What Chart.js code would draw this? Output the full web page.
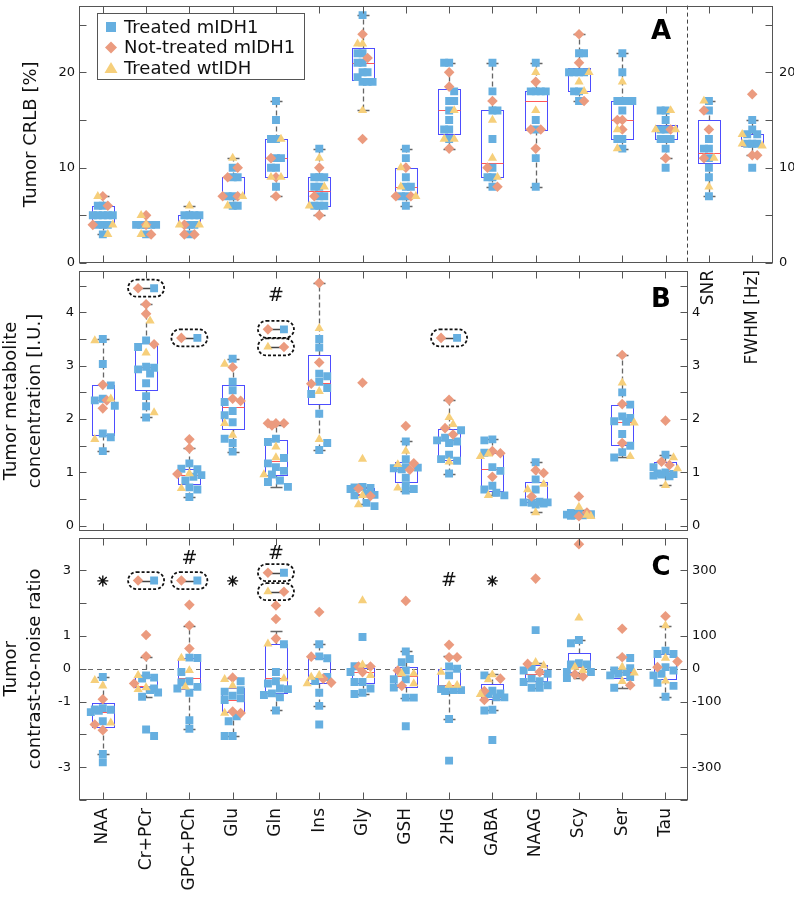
<!DOCTYPE html>
<html>
<head>
<meta charset="utf-8">
<script src="https://cdn.jsdelivr.net/npm/chart.js@4.4.0/dist/chart.umd.min.js"></script>
<style>
  body { margin: 0; background: #fff; }
  #wrap { position: relative; width: 794px; height: 898px; overflow: hidden; }
  canvas { position: absolute; left: 0; }
</style>
</head>
<body>
<div id="wrap">
  <canvas id="crlbChart" width="794" height="400" style="top:0"></canvas>
  <canvas id="concChart" width="794" height="272" style="top:265px"></canvas>
  <canvas id="cnrChart" width="794" height="366" style="top:532px"></canvas>
</div>
<script>
// Categories
const metabolites = ['NAA', 'Cr+PCr', 'GPC+PCh', 'Glu', 'Gln', 'Ins', 'Gly', 'GSH', '2HG', 'GABA', 'NAAG', 'Scy', 'Ser', 'Tau'];
const qualityLabels = ['SNR', 'FWHM [Hz]'];

// Panel A: CRLB [%] (14 metabolites + SNR + FWHM)
const crlbTreated = [
  [6, 6, 5, 5, 5, 5, 5, 4, 4, 4, 3], [4, 4, 4, 4, 4, 3], [5, 5, 5, 5, 4, 4, 3], [10, 9, 9, 7, 7, 6, 6],
  [17, 15, 13, 13, 11, 11, 10, 10, 8], [12, 9, 9, 9, 8, 8, 7, 7, 6, 6, 6], [26, 22, 22, 21, 21, 20, 20, 19.5, 19, 19, 19],
  [12, 11, 9, 8, 8, 7, 7, 6], [21, 21, 18, 17, 17, 16, 15, 14, 14, 13], [21, 18, 16, 16, 13, 10, 9, 9, 8],
  [21, 18, 18, 18, 18, 15, 14, 11, 8], [22, 22, 20, 20, 20, 20, 18, 18, 17], [22, 20, 17, 17, 17, 17, 16, 13, 13, 12],
  [16, 16, 15, 14, 14, 13, 13, 13, 12, 10], [17, 16, 13, 12, 12, 11, 10, 9, 7], [15, 14, 13.5, 13.5, 12.5, 12.5, 12.5, 10]
];
const crlbNotTreated = [
  [7, 6, 4], [5, 4, 3], [4, 3, 3], [10, 9, 7, 7], [11, 9, 7], [10, 7, 5], [24, 21.5, 13], [10, 7, 7],
  [20, 18.5, 12], [17, 10, 8], [19, 14, 14, 12], [24, 21, 17], [15, 15, 14], [14, 11], [16, 14, 11], [17.7, 11.3, 11.3]
];
const crlbWildtype = [
  [7, 4, 3], [5, 4, 3], [6, 4, 4], [11, 7, 6], [13, 9, 9], [11, 8, 6], [23, 23, 16], [10, 8, 7],
  [16, 13, 13], [15, 11, 9], [20, 16], [20, 19, 18], [19, 14, 12], [16, 14, 14], [17, 11, 8], [13.5, 12.5, 12.3]
];
const crlbLow = [3, 4, 3, 6, 7, 5, 16, 6, 12, 8, 8, 17, 12, 11, 7, 11.3];
const crlbQ1 = [4, 4, 4, 7, 9, 6, 19.2, 7, 13.5, 9, 14, 18, 13, 13, 10.5, 12.3];
const crlbMedian = [5, 4, 4, 7, 11, 7.5, 21, 8, 16, 10.5, 17, 20, 15, 14, 11.5, 12.4];
const crlbQ3 = [6, 4, 5, 9, 13, 9, 22.5, 10, 18.2, 16, 18, 20.5, 17, 14.5, 15, 13.5];
const crlbHigh = [7, 4, 6, 11, 17, 12, 26, 12, 21, 21, 21, 24, 22, 16, 17, 15];

// Panel B: concentration [I.U.]
const concTreated = [
  [3.5, 3.03, 2.63, 2.38, 2.35, 2.25, 1.73, 1.66, 1.4], [3.47, 3.35, 2.98, 2.96, 2.93, 2.85, 2.67, 2.43, 2.24, 2.03],
  [1.17, 1.07, 1.06, 0.95, 0.92, 0.85, 0.72, 0.68, 0.54], [3.13, 2.7, 2.54, 2.32, 2.15, 2.07, 1.94, 1.63, 1.55, 1.39],
  [1.63, 1.57, 1.27, 1.17, 1.1, 1.03, 0.96, 0.85, 0.82, 0.73], [3.5, 3.34, 2.85, 2.8, 2.7, 2.58, 2.47, 2.1, 1.55, 1.42],
  [0.73, 0.72, 0.71, 0.69, 0.6, 0.58, 0.57, 0.43, 0.37], [1.58, 1.25, 1.1, 1.09, 1.08, 1.06, 0.9, 0.75, 0.69, 0.66],
  [1.79, 1.65, 1.6, 1.58, 1.55, 1.33, 1.25, 1.22, 0.98], [1.62, 1.6, 1.37, 1.1, 1.03, 0.75, 0.68, 0.62, 0.57],
  [1.19, 0.87, 0.68, 0.45, 0.44, 0.44, 0.43, 0.42, 0.4], [0.24, 0.23, 0.22, 0.21, 0.2, 0.2, 0.19],
  [2.5, 2.27, 2.05, 2.02, 1.96, 1.95, 1.72, 1.5, 1.38, 1.28], [1.33, 1.1, 1.0, 0.98, 0.97, 0.96, 0.94, 0.93]
];
const concNotTreated = [
  [2.64, 2.35, 2.2], [4.15, 3.97, 3.4], [1.62, 1.45, 0.97], [2.97, 2.38, 2.34], [1.92, 1.92, 1.92, 1.88],
  [4.55, 3.06, 2.66], [2.68, 0.7, 0.56], [1.87, 1.17, 1.05], [2.36, 1.83, 1.71], [1.4, 1.36, 0.92],
  [1.04, 0.99, 0.55], [0.55, 0.25, 0.18], [3.2, 2.28, 1.55], [1.97, 1.2, 1.14]
];
const concWildtype = [
  [3.47, 2.38, 1.62], [3.84, 3.24, 2.12], [0.98, 0.7], [3.03, 1.92, 1.7], [1.48, 1.28, 0.96], [3.7, 2.52, 1.62],
  [1.25, 0.57, 0.4], [1.4, 1.15, 0.71], [2.03, 1.9, 1.2], [1.35, 1.3, 0.57], [0.78, 0.68, 0.25], [0.35, 0.2, 0.18],
  [2.68, 1.93, 1.3], [1.28, 1.07, 0.76]
];
const concLow = [1.4, 2.03, 0.54, 1.39, 0.73, 1.42, 0.4, 0.66, 0.98, 0.57, 0.25, 0.17, 1.28, 0.76];
const concQ1 = [1.7, 2.55, 0.78, 1.81, 0.96, 2.28, 0.58, 0.82, 1.23, 0.66, 0.44, 0.19, 1.52, 0.96];
const concMedian = [2.35, 2.97, 0.95, 2.23, 1.22, 2.68, 0.6, 1.07, 1.6, 1.07, 0.5, 0.22, 1.95, 1.03];
const concQ3 = [2.63, 3.42, 1.07, 2.63, 1.6, 3.2, 0.71, 1.2, 1.81, 1.37, 0.82, 0.26, 2.27, 1.2];
const concHigh = [3.5, 4.15, 1.45, 3.13, 1.88, 4.55, 0.73, 1.58, 2.36, 1.62, 1.19, 0.3, 3.2, 1.33];
// outlier pairs shown in dashed outlines
const concPairCat = [1, 2, 4, 4, 8];
const concPairValue = [4.45, 3.52, 3.68, 3.35, 3.52];
const concPairLeft = ['orange', 'orange', 'orange', 'yellow', 'orange'];
const concPairRight = ['blue', 'blue', 'blue', 'orange', 'blue'];
const concSigCat = [4];
const concSigMark = ['#'];
const concSigValue = [4.3];

// Panel C: contrast-to-noise ratio
const cnrTreated = [
  [-0.25, -1.2, -1.24, -1.25, -1.28, -1.32, -1.6, -2.6, -2.85], [-0.2, -0.27, -0.3, -0.6, -0.65, -0.72, -0.85, -1.85, -2.05],
  [0.34, 0.33, -0.1, -0.38, -0.42, -0.55, -0.6, -0.73, -1.57, -1.83], [-0.38, -0.65, -0.7, -0.82, -0.9, -0.95, -1.45, -1.6, -2.05, -2.05],
  [0.75, -0.1, -0.38, -0.45, -0.6, -0.62, -0.75, -0.8, -0.87, -1.27], [0.75, 0.38, 0.32, -0.25, -0.37, -0.73, -1.13, -1.7],
  [0.97, 0.08, -0.1, -0.4, -0.4, -0.6, -0.73, -0.77], [0.53, 0.3, 0.2, -0.05, -0.32, -0.32, -0.57, -0.88, -0.88, -1.75],
  [0.07, 0, -0.2, -0.62, -0.65, -0.65, -0.68, -1.53, -2.8], [-0.2, -0.67, -0.75, -0.77, -0.87, -0.87, -1.25, -1.27, -2.17],
  [1.18, 0.05, -0.05, -0.15, -0.3, -0.38, -0.4, -0.5, -0.58, -0.58], [0.88, 0.78, 0.17, 0.13, 0.13, -0.1, -0.1, -0.28],
  [0.33, 0.02, -0.05, -0.1, -0.15, -0.2, -0.25, -0.58], [0.55, 0.45, 0.45, 0.05, -0.05, -0.15, -0.2, -0.43, -0.52, -0.85]
];
const cnrNotTreated = [
  [-0.93, -1.7, -1.87], [1.03, 0.38, -0.45], [1.95, 1.32, 0.62], [-0.27, -1.3, -1.35], [1.93, 1.52, 0.92],
  [1.73, 0.37, -0.3, -0.42], [0.07, 0.07, -0.1], [2.07, -0.05, -0.52], [0.73, 0.35, 0.35], [-0.3, -0.68, -0.95],
  [2.75, 0.15, -0.1], [3.8, -0.17, -0.23], [1.22, 0.35, -0.5], [1.6, 0.22, 0.05]
];
const cnrWildtype = [
  [-0.35, -0.52, -1.65], [-0.2, -0.57, -0.63], [0.33, -0.05, -0.55], [-0.32, -0.52, -1.35], [0.76, -0.3],
  [-0.2, -0.25, -0.45], [2.08, 0.12, -0.2], [-0.15, -0.15, -0.45], [-0.1, -0.5, -0.5], [-0.18, -0.33, -0.78],
  [0.2, 0.1], [1.55, 0.05, -0.05], [0.05, -0.12, -0.38], [1.32, 0.33, -0.37]
];
const cnrLow = [-2.6, -0.85, -1.85, -2.05, -1.27, -1.13, -0.77, -0.88, -1.53, -1.27, -0.6, -0.28, -0.58, -0.85];
const cnrQ1 = [-1.77, -0.55, -0.62, -1.32, -0.75, -0.43, -0.42, -0.55, -0.67, -0.92, -0.38, -0.1, -0.28, -0.3];
const cnrMedian = [-1.32, -0.52, -0.27, -0.95, -0.27, -0.27, -0.1, -0.22, -0.5, -0.85, -0.15, 0.05, -0.1, 0.05];
const cnrQ3 = [-1.05, -0.25, 0.34, -0.6, 0.75, 0.33, 0.03, 0.07, 0, -0.47, 0.13, 0.48, 0.03, 0.45];
const cnrHigh = [-0.25, 0.37, 1.32, -0.27, 1.15, 0.75, 0.12, 0.53, 0.4, -0.17, 0.17, 0.88, 0.35, 1.3];
const cnrPairCat = [1, 2, 4, 4];
const cnrPairValue = [2.69, 2.69, 2.93, 2.35];
const cnrPairLeft = ['orange', 'orange', 'orange', 'yellow'];
const cnrPairRight = ['blue', 'blue', 'blue', 'orange'];
const cnrSigCat = [0, 2, 3, 4, 8, 9];
const cnrSigMark = ['*', '#', '*', '#', '#', '*'];
const cnrSigValue = [2.68, 3.34, 2.68, 3.5, 2.68, 2.68];

// Styling
Chart.defaults.font.family = "'DejaVu Sans', sans-serif";
Chart.defaults.color = '#111';
const COLORS = { blue: '#66afe0', orange: '#eb9b7f', yellow: '#f6cf7b' };
const KIND = ['blue', 'orange', 'yellow'];
const PX_PER_CAT = 43.3;
const PAIR_OFFSET = 0.185;

// beeswarm-ish jitter: spread overlapping points sideways, but keep them within the box width
function swarm(groups, pxPerY, step, minD, maxDx) {
  const out = { blue: [], orange: [], yellow: [] };
  groups[0].forEach((_, i) => {
    const pts = [];
    groups.forEach((g, k) => (g[i] || []).forEach(v => pts.push({ v, k })));
    pts.sort((a, b) => b.v - a.v);
    const placed = [];
    pts.forEach((p, n) => {
      let best = 0, bestD = -1;
      for (let j = 0; j < 40; j++) {
        const s = j === 0 ? 0 : Math.ceil(j / 2) * step * ((j + n) % 2 ? 1 : -1);
        if (Math.abs(s) > maxDx) break;
        let d = Infinity;
        placed.forEach(q => { d = Math.min(d, Math.hypot(s - q.dx, (p.v - q.v) * pxPerY)); });
        if (d >= minD) { best = s; break; }
        if (d > bestD) { bestD = d; best = s; }
      }
      placed.push({ v: p.v, dx: best });
      out[KIND[p.k]].push({ x: i + best / PX_PER_CAT, y: p.v });
    });
  });
  return out;
}

function addPairs(pts, cats, vals, left, right) {
  cats.forEach((c, j) => {
    pts[left[j]].push({ x: c - PAIR_OFFSET, y: vals[j] });
    pts[right[j]].push({ x: c + PAIR_OFFSET, y: vals[j] });
  });
  return pts;
}

function pointDatasets(pts) {
  return [
    { label: 'Treated wtIDH', data: pts.yellow, pointStyle: 'triangle', pointRadius: 5.3, backgroundColor: COLORS.yellow, borderWidth: 0 },
    { label: 'Not-treated mIDH1', data: pts.orange, pointStyle: 'rectRot', pointRadius: 5.3, backgroundColor: COLORS.orange, borderWidth: 0 },
    { label: 'Treated mIDH1', data: pts.blue, pointStyle: 'rect', pointRadius: 5.6, backgroundColor: COLORS.blue, borderWidth: 0 }
  ];
}

function drawMarker(ctx, kind, x, y) {
  ctx.fillStyle = COLORS[kind];
  ctx.beginPath();
  if (kind === 'blue') ctx.rect(x - 5, y - 5, 10, 10);
  else if (kind === 'orange') { ctx.moveTo(x - 6, y); ctx.lineTo(x, y - 6); ctx.lineTo(x + 6, y); ctx.lineTo(x, y + 6); }
  else { ctx.moveTo(x, y - 6); ctx.lineTo(x + 6.5, y + 5); ctx.lineTo(x - 6.5, y + 5); }
  ctx.closePath();
  ctx.fill();
}

function panelPlugin(cfg) {
  return {
    id: 'panel',
    beforeDatasetsDraw(chart) {
      const { ctx, chartArea: a } = chart;
      const x = chart.scales.x, y = chart.scales.y;
      const px = v => Math.round(x.getPixelForValue(v)) + 0.5;
      const py = v => Math.round(y.getPixelForValue(v)) + 0.5;
      ctx.save();
      ctx.lineWidth = 1;
      ctx.strokeStyle = '#444';
      ctx.setLineDash([4, 3]);
      if (cfg.vline !== undefined) {
        ctx.beginPath(); ctx.moveTo(px(cfg.vline), a.top); ctx.lineTo(px(cfg.vline), a.bottom); ctx.stroke();
      }
      if (cfg.hline !== undefined) {
        ctx.strokeStyle = '#666';
        ctx.setLineDash([5, 4]);
        ctx.beginPath(); ctx.moveTo(a.left, py(cfg.hline)); ctx.lineTo(a.right, py(cfg.hline)); ctx.stroke();
      }
      // box plots
      cfg.med.forEach((m, i) => {
        const xc = px(i);
        const hw = Math.round(x.getPixelForValue(i + 0.26) - x.getPixelForValue(i));
        const cw = 6;
        const yLo = py(cfg.lo[i]), yQ1 = py(cfg.q1[i]), yMed = py(m), yQ3 = py(cfg.q3[i]), yHi = py(cfg.hi[i]);
        ctx.strokeStyle = '#666';
        ctx.lineWidth = 1.3;
        ctx.setLineDash([5, 3]);
        ctx.beginPath();
        ctx.moveTo(xc, yQ3); ctx.lineTo(xc, yHi);
        ctx.moveTo(xc, yQ1); ctx.lineTo(xc, yLo);
        ctx.stroke();
        ctx.setLineDash([]);
        ctx.beginPath();
        if (yHi < yQ3) { ctx.moveTo(xc - cw, yHi); ctx.lineTo(xc + cw, yHi); }
        if (yLo > yQ1) { ctx.moveTo(xc - cw, yLo); ctx.lineTo(xc + cw, yLo); }
        ctx.stroke();
        ctx.lineWidth = 1;
        ctx.strokeStyle = '#4d4dff';
        ctx.strokeRect(xc - hw, yQ3, 2 * hw, yQ1 - yQ3);
        ctx.strokeStyle = '#ff5858';
        ctx.beginPath(); ctx.moveTo(xc - hw, yMed); ctx.lineTo(xc + hw, yMed); ctx.stroke();
      });
      // connector lines of outlier pairs
      (cfg.pairCat || []).forEach((c, j) => {
        const yy = py(cfg.pairValue[j]);
        ctx.strokeStyle = '#444';
        ctx.lineWidth = 1.5;
        ctx.beginPath();
        ctx.moveTo(x.getPixelForValue(c - PAIR_OFFSET), yy);
        ctx.lineTo(x.getPixelForValue(c + PAIR_OFFSET), yy);
        ctx.stroke();
      });
      ctx.restore();
    },
    afterDatasetsDraw(chart) {
      const { ctx, chartArea: a } = chart;
      const x = chart.scales.x, y = chart.scales.y;
      ctx.save();
      // dashed outlines around pairs
      (cfg.pairCat || []).forEach((c, j) => {
        const xc = x.getPixelForValue(c), yc = y.getPixelForValue(cfg.pairValue[j]);
        const w = 36, r = 8.5;
        ctx.strokeStyle = '#111';
        ctx.lineWidth = 1.8;
        ctx.setLineDash([3, 2]);
        ctx.beginPath();
        ctx.moveTo(xc - w / 2 + r, yc - r);
        ctx.lineTo(xc + w / 2 - r, yc - r);
        ctx.arc(xc + w / 2 - r, yc, r, -Math.PI / 2, Math.PI / 2);
        ctx.lineTo(xc - w / 2 + r, yc + r);
        ctx.arc(xc - w / 2 + r, yc, r, Math.PI / 2, Math.PI * 1.5);
        ctx.closePath();
        ctx.stroke();
      });
      ctx.setLineDash([]);
      // significance marks
      (cfg.sigCat || []).forEach((c, j) => {
        const xc = x.getPixelForValue(c), yc = y.getPixelForValue(cfg.sigValue[j]);
        ctx.fillStyle = '#111';
        ctx.strokeStyle = '#111';
        if (cfg.sigMark[j] === '#') {
          ctx.font = "19px 'DejaVu Sans'";
          ctx.textAlign = 'center';
          ctx.textBaseline = 'middle';
          ctx.fillText('#', xc, yc);
        } else {
          ctx.lineWidth = 1.4;
          ctx.beginPath();
          for (let k = 0; k < 4; k++) {
            const ang = k * Math.PI / 4;
            ctx.moveTo(xc - 5.5 * Math.cos(ang), yc - 5.5 * Math.sin(ang));
            ctx.lineTo(xc + 5.5 * Math.cos(ang), yc + 5.5 * Math.sin(ang));
          }
          ctx.stroke();
        }
      });
      // frame and inward ticks
      const L = Math.round(a.left) + 0.5, R = Math.round(a.right) - 0.5;
      const T = Math.round(a.top) + 0.5, B = Math.round(a.bottom) - 0.5;
      ctx.strokeStyle = '#555';
      ctx.lineWidth = 1;
      ctx.strokeRect(L, T, R - L, B - T);
      const tl = 7;
      ctx.beginPath();
      y.ticks.forEach(t => {
        const p = Math.round(y.getPixelForValue(t.value)) + 0.5;
        ctx.moveTo(L, p); ctx.lineTo(L + tl, p);
        ctx.moveTo(R, p); ctx.lineTo(R - tl, p);
      });
      x.ticks.forEach(t => {
        const p = Math.round(x.getPixelForValue(t.value)) + 0.5;
        ctx.moveTo(p, T); ctx.lineTo(p, T + tl);
        ctx.moveTo(p, B); ctx.lineTo(p, B - tl);
      });
      ctx.stroke();
      // panel letter
      ctx.fillStyle = '#000';
      ctx.font = "bold 26px 'DejaVu Sans'";
      ctx.textAlign = 'center';
      ctx.textBaseline = 'middle';
      ctx.fillText(cfg.letter, 661, a.top + cfg.letterDy);
      // legend
      if (cfg.legend) {
        ctx.fillStyle = '#fff';
        ctx.fillRect(97.5, 13.5, 207, 66);
        ctx.strokeStyle = '#555';
        ctx.strokeRect(97.5, 13.5, 207, 66);
        const items = [['blue', 'Treated mIDH1'], ['orange', 'Not-treated mIDH1'], ['yellow', 'Treated wtIDH']];
        ctx.font = "18px 'DejaVu Sans'";
        ctx.textAlign = 'left';
        items.forEach(([k, text], n) => {
          const yy = 27 + n * 20.5;
          drawMarker(ctx, k, 111, yy);
          ctx.fillStyle = '#111';
          ctx.fillText(text, 124, yy + 1);
        });
      }
      ctx.restore();
    }
  };
}

function fixedTicks(values) {
  return scale => { scale.ticks = values.map(v => ({ value: v })); };
}
function fitWidth(w) {
  return s => { s.width = w; s.paddingTop = 0; s.paddingBottom = 0; };
}
function fitHeight(h) {
  return s => { s.height = h; s.paddingLeft = 0; s.paddingRight = 0; };
}
const tickFont = { size: 13 };
const catFont = { size: 17 };

// ---------- Panel A ----------
const crlbPts = swarm([crlbTreated, crlbNotTreated, crlbWildtype], 9.7, 5, 5, 12);
const crlbYTicks = [0, 5, 10, 15, 20, 25];
const crlbLabels = metabolites.map(() => '').concat(qualityLabels);
new Chart(document.getElementById('crlbChart'), {
  type: 'scatter',
  data: { datasets: pointDatasets(crlbPts) },
  options: {
    responsive: false, animation: false, events: [],
    layout: { padding: { top: 1, left: 0, right: 0, bottom: 0 } },
    plugins: { legend: { display: false }, tooltip: { enabled: false } },
    scales: {
      x: {
        type: 'linear', min: -0.55, max: 15.48,
        afterBuildTicks: fixedTicks(crlbLabels.map((_, i) => i)),
        afterFit: fitHeight(137),
        grid: { display: false, drawTicks: false }, border: { display: false },
        ticks: { autoSkip: false, minRotation: 90, maxRotation: 90, padding: 7, font: catFont, callback: v => crlbLabels[v] }
      },
      y: {
        min: 0, max: 27,
        afterBuildTicks: fixedTicks(crlbYTicks),
        afterFit: fitWidth(79),
        grid: { display: false, drawTicks: false }, border: { display: false },
        ticks: { padding: 4, font: tickFont, callback: v => (v % 10 === 0 ? v : '') },
        title: { display: true, text: 'Tumor CRLB [%]', font: { size: 18, lineHeight: 1.2 }, padding: { top: 21, bottom: 0 } }
      },
      y2: {
        position: 'right', min: 0, max: 27,
        afterBuildTicks: fixedTicks(crlbYTicks),
        afterFit: fitWidth(21),
        grid: { display: false, drawTicks: false }, border: { display: false },
        ticks: { padding: 6, font: tickFont, callback: v => (v % 10 === 0 ? v : '') }
      }
    }
  },
  plugins: [panelPlugin({
    lo: crlbLow, q1: crlbQ1, med: crlbMedian, q3: crlbQ3, hi: crlbHigh,
    vline: 13.5, letter: 'A', letterDy: 27, legend: true
  })]
});

// ---------- Panel B ----------
const concPts = addPairs(swarm([concTreated, concNotTreated, concWildtype], 54.8, 4, 8, 13),
  concPairCat, concPairValue, concPairLeft, concPairRight);
const concYTicks = [0, 0.5, 1, 1.5, 2, 2.5, 3, 3.5, 4, 4.5];
new Chart(document.getElementById('concChart'), {
  type: 'scatter',
  data: { datasets: pointDatasets(concPts) },
  options: {
    responsive: false, animation: false, events: [],
    layout: { padding: { top: 2, left: 0, right: 0, bottom: 0 } },
    plugins: { legend: { display: false }, tooltip: { enabled: false } },
    scales: {
      x: {
        type: 'linear', min: -0.55, max: 13.52,
        afterBuildTicks: fixedTicks(metabolites.map((_, i) => i)),
        afterFit: fitHeight(2),
        grid: { display: false, drawTicks: false }, border: { display: false },
        ticks: { display: false }
      },
      y: {
        min: -0.104, max: 4.78,
        afterBuildTicks: fixedTicks(concYTicks),
        afterFit: fitWidth(79),
        grid: { display: false, drawTicks: false }, border: { display: false },
        ticks: { padding: 5, font: tickFont, callback: v => (Number.isInteger(v) ? v : '') },
        title: { display: true, text: ['Tumor metabolite', 'concentration [I.U.]'], font: { size: 18, lineHeight: 1.3 }, padding: { top: 0, bottom: 0 } }
      },
      y2: {
        position: 'right', min: -0.104, max: 4.78,
        afterBuildTicks: fixedTicks(concYTicks),
        afterFit: fitWidth(106),
        grid: { display: false, drawTicks: false }, border: { display: false },
        ticks: { padding: 4, font: tickFont, callback: v => (Number.isInteger(v) ? v : '') }
      }
    }
  },
  plugins: [panelPlugin({
    lo: concLow, q1: concQ1, med: concMedian, q3: concQ3, hi: concHigh,
    pairCat: concPairCat, pairValue: concPairValue,
    sigCat: concSigCat, sigMark: concSigMark, sigValue: concSigValue,
    letter: 'B', letterDy: 30
  })]
});

// ---------- Panel C ----------
const cnrPts = addPairs(swarm([cnrTreated, cnrNotTreated, cnrWildtype], 33, 4, 8, 13),
  cnrPairCat, cnrPairValue, cnrPairLeft, cnrPairRight);
const cnrYTicks = [-4, -3, -2, -1, 0, 1, 2, 3, 4];
const cnrShown = [3, 1, 0, -1, -3];
new Chart(document.getElementById('cnrChart'), {
  type: 'scatter',
  data: { datasets: pointDatasets(cnrPts) },
  options: {
    responsive: false, animation: false, events: [],
    layout: { padding: { top: 4, left: 0, right: 0, bottom: 0 } },
    plugins: { legend: { display: false }, tooltip: { enabled: false } },
    scales: {
      x: {
        type: 'linear', min: -0.55, max: 13.52,
        afterBuildTicks: fixedTicks(metabolites.map((_, i) => i)),
        afterFit: fitHeight(98),
        grid: { display: false, drawTicks: false }, border: { display: false },
        ticks: { autoSkip: false, minRotation: 90, maxRotation: 90, padding: 8, font: catFont, callback: v => metabolites[v] }
      },
      y: {
        min: -4, max: 4,
        afterBuildTicks: fixedTicks(cnrYTicks),
        afterFit: fitWidth(79),
        grid: { display: false, drawTicks: false }, border: { display: false },
        ticks: { padding: 8, font: tickFont, callback: v => (cnrShown.includes(v) ? v : '') },
        title: { display: true, text: ['Tumor', 'contrast-to-noise ratio'], font: { size: 18, lineHeight: 1.3 }, padding: { top: 0, bottom: 0 } }
      },
      y2: {
        position: 'right', min: -4, max: 4,
        afterBuildTicks: fixedTicks(cnrYTicks),
        afterFit: fitWidth(106),
        grid: { display: false, drawTicks: false }, border: { display: false },
        ticks: { padding: 4, font: tickFont, callback: v => (cnrShown.includes(v) ? v * 100 : '') }
      }
    }
  },
  plugins: [panelPlugin({
    lo: cnrLow, q1: cnrQ1, med: cnrMedian, q3: cnrQ3, hi: cnrHigh,
    hline: 0,
    pairCat: cnrPairCat, pairValue: cnrPairValue,
    sigCat: cnrSigCat, sigMark: cnrSigMark, sigValue: cnrSigValue,
    letter: 'C', letterDy: 31
  })]
});
</script>
</body>
</html>
